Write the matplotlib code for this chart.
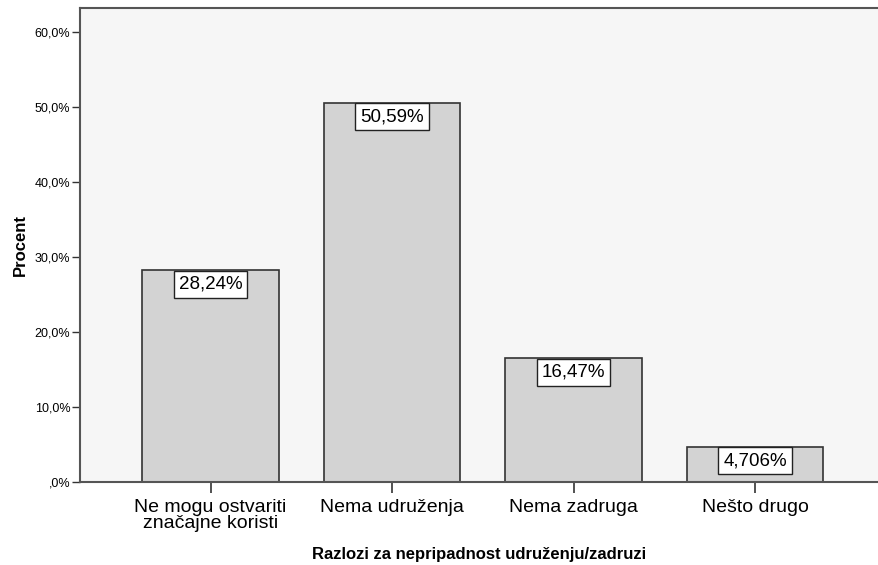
import matplotlib
matplotlib.use("Agg")
import matplotlib.pyplot as plt

plt.rcParams['font.family'] = ['Liberation Sans', 'DejaVu Sans']

categories = ["Ne mogu ostvariti\nznačajne koristi", "Nema udruženja",
              "Nema zadruga", "Nešto drugo"]
values = [28.24, 50.59, 16.47, 4.706]
value_labels = ["28,24%", "50,59%", "16,47%", "4,706%"]
yticks = [0, 10, 20, 30, 40, 50, 60]
ytick_labels = [",0%", "10,0%", "20,0%", "30,0%", "40,0%", "50,0%", "60,0%"]

W, H = 879, 565
fig = plt.figure(figsize=(W / 100, H / 100), dpi=100)
ax = fig.add_axes([80 / W, 1 - 482 / H, 1 - 80 / W, (482 - 8) / H])
ax.set_facecolor("#f6f6f6")

x = range(len(categories))
ax.bar(x, values, width=0.75, color="#d3d3d3", edgecolor="#333333", linewidth=1.2, zorder=2)

# value boxes hang from the bar top
fs = 13.5
pad = 0.26
for xi, v, lab in zip(x, values, value_labels):
    ax.annotate(lab, (xi, v), xytext=(0, -pad * fs - 0.4), textcoords="offset points",
                ha="center", va="top", fontsize=fs, zorder=3,
                bbox=dict(boxstyle=f"square,pad={pad}", fc="white", ec="#222222", lw=1))

ax.set_xlim(-0.719, 3.683)
ax.set_ylim(0, 63.2)
ax.set_yticks(yticks)
ax.set_yticklabels(ytick_labels, fontsize=9)
ax.set_xticks(list(x))
ax.set_xticklabels(categories, fontsize=14, linespacing=0.95)
ax.tick_params(axis="y", direction="out", length=6, width=1, color="#333333", pad=1)
ax.tick_params(axis="x", direction="out", length=8, width=1.2, color="#333333", pad=4)

for side in ["left", "bottom", "top"]:
    ax.spines[side].set_color("#555555")
    ax.spines[side].set_linewidth(1.5)
ax.spines["right"].set_visible(False)

ax.set_ylabel("Procent", fontsize=12, fontweight="bold", labelpad=5)
ax.set_xlabel("Razlozi za nepripadnost udruženju/zadruzi", fontsize=12,
              fontweight="bold", labelpad=11)

fig.savefig("out.png", dpi=100)
